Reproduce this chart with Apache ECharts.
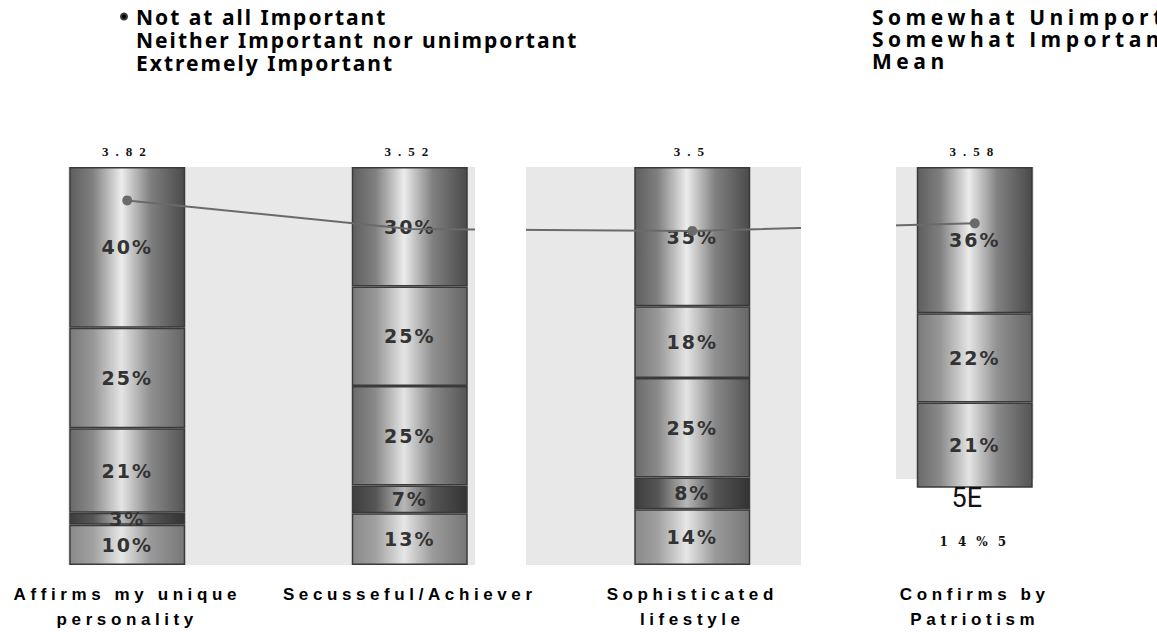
<!DOCTYPE html>
<html>
<head>
<meta charset="utf-8">
<script src="https://cdn.jsdelivr.net/npm/echarts@6/dist/echarts.min.js"></script>
<style>
  html, body { margin: 0; padding: 0; background: #ffffff; overflow: hidden; width: 1157px; height: 639px; position: relative; }
  #chart { position: absolute; left: -14px; top: 0; width: 1171px; height: 639px; }
  text[style*="Liberation Sans"] { letter-spacing: 4.6px; }
  text[style*="Noto Sans"] { letter-spacing: 2px; }
  text[style*="Open Sans"] { letter-spacing: 4.5px; }
  text[style*="Liberation Serif"] { letter-spacing: 7px; }
  text[style*="DejaVu Serif"] { letter-spacing: 10px; }
  text[style*="DejaVu Sans"] { letter-spacing: 2px; }
</style>
</head>
<body>
<div id="chart"></div>
<script>
// ---- data ----
const categories = ['Affirms my unique\npersonality', 'Secusseful/Achiever', 'Sophisticated\nlifestyle', 'Confirms by\nPatriotism'];
const meanLabels = ['3.82', '3.52', '3.5', '3.58'];
const means = [3.82, 3.52, 3.5, 3.58];
const notAtAll = [10, 13, 14, 14];
const somewhatUnimportant = [3, 7, 8, 5];
const neither = [21, 25, 25, 21];
const somewhatImportant = [25, 25, 18, 22];
const extremely = [40, 30, 35, 36];
const seriesNames = ['Not at all Important', 'Somewhat Unimportant', 'Neither Important nor unimportant', 'Somewhat Important', 'Extremely Important'];
// the last bar is cut off in the source; its lower segments only show stray text
const croppedBar = 3;
const croppedText = ['14%5', '5E'];

// ---- chart ----
const stacks = [notAtAll, somewhatUnimportant, neither, somewhatImportant, extremely];
const totals = categories.map((c, i) => stacks.reduce((s, arr) => s + arr[i], 0));

const shades = [
  ['#8a8a8a', '#a0a0a0', '#e6e6e6', '#9a9a9a', '#777777'],
  ['#3e3e3e', '#555555', '#b8b8b8', '#555555', '#333333'],
  ['#6a6a6a', '#8a8a8a', '#e4e4e4', '#888888', '#555555'],
  ['#7a7a7a', '#979797', '#e4e4e4', '#909090', '#666666'],
  ['#5e5e5e', '#808080', '#ececec', '#808080', '#4a4a4a']
];
function grad(s) {
  return new echarts.graphic.LinearGradient(0, 0, 1, 0, [
    { offset: 0, color: s[0] }, { offset: 0.2, color: s[1] },
    { offset: 0.45, color: s[2] }, { offset: 0.7, color: s[3] },
    { offset: 1, color: s[4] }
  ]);
}
const pctLabel = {
  show: true, position: 'inside', color: '#333333',
  fontFamily: 'DejaVu Sans', fontWeight: 'bold', fontSize: 19
};

const barSeries = stacks.map((arr, k) => ({
  name: seriesNames[k],
  type: 'bar',
  stack: 'total',
  barWidth: 116,
  itemStyle: { color: grad(shades[k]), borderColor: '#3a3a3a', borderWidth: 1.5 },
  label: pctLabel,
  data: arr.map((v, i) => {
    const item = { value: v / totals[i] * 100 };
    if (i === croppedBar && k < croppedText.length) {
      item.itemStyle = { color: 'rgba(0,0,0,0)', borderWidth: 0 };
      item.label = k === 0
        ? { formatter: croppedText[k], fontFamily: 'DejaVu Serif', fontWeight: 'bold', fontSize: 12, color: '#111', offset: [3, 5] }
        : { formatter: croppedText[k], fontFamily: 'Roboto', fontWeight: 'normal', fontSize: 27, color: '#111', offset: [-8, 0] };
    } else {
      item.label = { formatter: v + '%' };
    }
    return item;
  })
}));

const lineSeries = {
  name: 'Mean',
  type: 'line',
  yAxisIndex: 1,
  data: means,
  symbol: 'circle',
  symbolSize: (v, p) => (p.dataIndex === 1 ? 0 : 10),
  itemStyle: { color: '#6a6a6a' },
  lineStyle: { color: '#6a6a6a', width: 2 },
  z: 5
};

const chart = echarts.init(document.getElementById('chart'), null, { renderer: 'svg' });
chart.setOption({
  animation: false,
  backgroundColor: '#ffffff',
  grid: { left: 0, right: 41, top: 167, bottom: 74 },
  legend: [
    {
      orient: 'vertical', left: 129, top: 1, itemGap: 2, itemWidth: 14, itemHeight: 6,
      selectedMode: false, icon: 'circle', symbolKeepAspect: true,
      itemStyle: { color: '#000' },
      textStyle: { fontFamily: 'Noto Sans', fontWeight: 'bold', fontSize: 21, lineHeight: 21, color: '#000' },
      data: [
        { name: seriesNames[0] },
        { name: seriesNames[2], itemStyle: { opacity: 0 } },
        { name: seriesNames[4], itemStyle: { opacity: 0 } }
      ]
    },
    {
      orient: 'vertical', left: 861, top: 1, itemGap: 1, itemWidth: 14, itemHeight: 6,
      selectedMode: false, icon: 'rect',
      itemStyle: { opacity: 0 }, lineStyle: { opacity: 0 },
      textStyle: { fontFamily: 'Open Sans', fontWeight: 'bold', fontSize: 21, lineHeight: 21, color: '#000' },
      data: [seriesNames[1], seriesNames[3], 'Mean']
    }
  ],
  xAxis: [
    {
      type: 'category', data: categories, position: 'bottom',
      axisLine: { show: false }, axisTick: { show: false },
      axisLabel: { interval: 0, margin: 17, color: '#000', fontFamily: 'Liberation Sans', fontWeight: 'bold', fontSize: 17, lineHeight: 25 }
    },
    {
      type: 'category', data: meanLabels, position: 'top',
      axisLine: { show: false }, axisTick: { show: false },
      axisLabel: { interval: 0, margin: 9, color: '#111', fontFamily: 'Liberation Serif', fontWeight: 'bold', fontSize: 13 }
    }
  ],
  yAxis: [
    { type: 'value', min: 0, max: 100, show: false, splitLine: { show: false } },
    { type: 'value', min: 0, max: 4.17, show: false, splitLine: { show: false } }
  ],
  graphic: [
    { type: 'rect', z: -10, shape: { x: 82, y: 167, width: 407, height: 398 }, style: { fill: '#e8e8e8' } },
    { type: 'rect', z: -10, shape: { x: 540, y: 167, width: 275, height: 398 }, style: { fill: '#e8e8e8' } },
    { type: 'rect', z: -10, shape: { x: 910, y: 167, width: 138, height: 312 }, style: { fill: '#e8e8e8' } },
    { type: 'rect', z: 100, shape: { x: 489, y: 185, width: 51, height: 70 }, style: { fill: '#ffffff' } },
    { type: 'rect', z: 100, shape: { x: 815, y: 185, width: 95, height: 70 }, style: { fill: '#ffffff' } }
  ],
  series: barSeries.concat([lineSeries])
});
</script>
</body>
</html>
